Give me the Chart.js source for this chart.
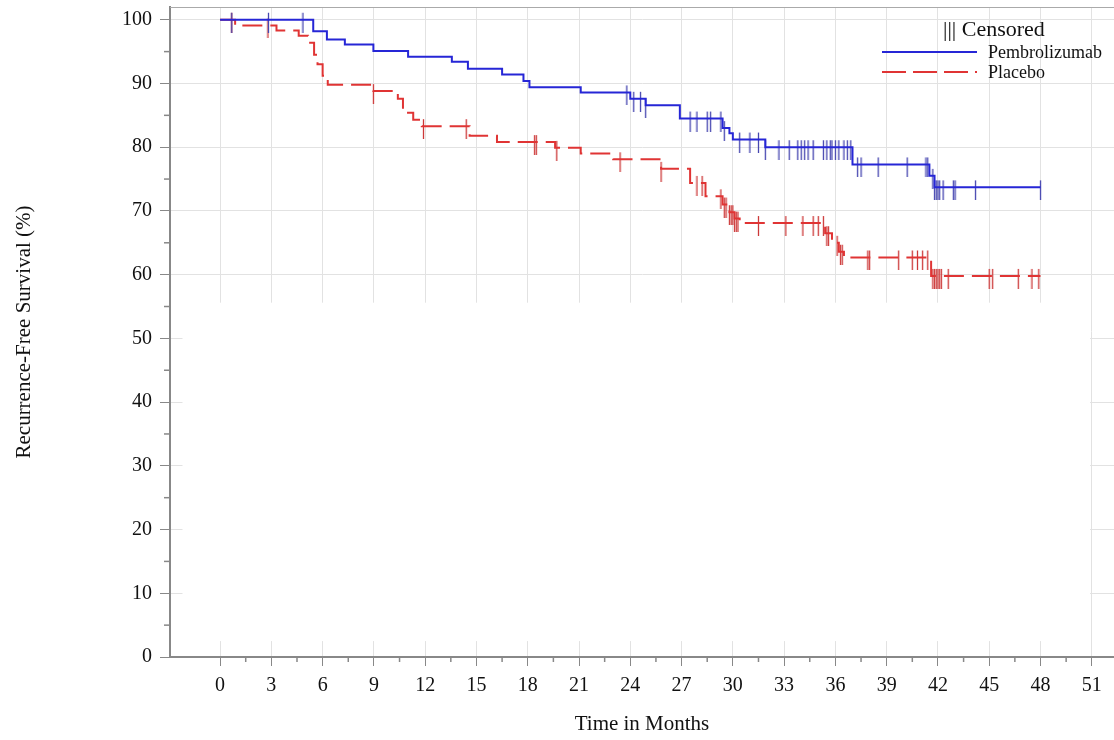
<!DOCTYPE html>
<html>
<head>
<meta charset="utf-8">
<script src="https://cdn.jsdelivr.net/npm/chart.js@4.4.0/dist/chart.umd.min.js"></script>
<style>
body { margin: 0; background: #fff; }
#wrap { position: relative; width: 1114px; height: 740px; }
.lg { position: absolute; font-family: 'Liberation Serif', serif; color: #111; white-space: nowrap; line-height: 1; }
.sw { position: absolute; height: 2px; }
</style>
</head>
<body>
<div id="wrap">
	<canvas id="kmChart" width="1114" height="740"></canvas>
	<div class="lg" style="left:943px; top:18px; font-size:22px;">||| Censored</div>
	<div class="sw" style="left:882px; top:51px; width:95px; background:#2626d6;"></div>
	<div class="lg" style="left:988px; top:43px; font-size:18px;">Pembrolizumab</div>
	<div class="sw" style="left:882px; top:71px; width:95px; background:repeating-linear-gradient(to right, #e03434 0 24px, transparent 24px 31px);"></div>
	<div class="lg" style="left:988px; top:63px; font-size:18px;">Placebo</div>
</div>
<script>
// Kaplan-Meier steps (months, RFS %)
var pembroTime = [0, 5.45, 6.25, 7.3, 8.97, 11.0, 13.56, 14.5, 16.5, 17.75, 18.1, 21.1, 24.0, 24.9, 26.9, 29.4, 29.8, 30.0, 31.9, 37.0, 41.5, 41.8, 48];
var pembroRFS  = [100, 98.2, 96.9, 96.1, 95.1, 94.2, 93.4, 92.3, 91.4, 90.4, 89.4, 88.6, 87.6, 86.6, 84.5, 83.0, 82.2, 81.2, 80.0, 77.3, 75.5, 73.7, 73.7];
var pembroCensor = [0.68, 2.83, 4.85, 23.8, 24.2, 24.6, 24.9, 27.5, 27.9, 28.5, 28.7, 29.3, 29.5, 30.4, 31.0, 31.5, 31.9,
	32.7, 33.3, 33.8, 34.0, 34.2, 34.4, 34.7, 35.3, 35.5, 35.7, 35.8, 36.0, 36.2, 36.5, 36.7, 36.9, 37.3, 37.5, 38.5, 40.2,
	41.3, 41.4, 41.7, 41.8, 41.9, 42.0, 42.1, 42.3, 42.9, 43.0, 44.2, 48.0];

var placeboTime = [0, 0.88, 3.3, 4.6, 5.15, 5.5, 5.7, 6.0, 6.3, 8.97, 10.4, 10.7, 11.3, 11.8, 14.6, 16.2, 19.6, 21.1, 23.0, 25.8, 27.5, 28.4, 29.4, 29.8, 30.1, 30.4, 35.4, 35.8, 36.2, 36.5, 41.6, 48];
var placeboRFS  = [100, 99.1, 98.3, 97.5, 96.4, 94.5, 93.0, 91.2, 89.8, 88.8, 87.6, 85.4, 84.3, 83.3, 81.8, 80.8, 79.9, 79.0, 78.1, 76.6, 74.4, 72.3, 71.0, 69.8, 68.8, 68.1, 66.5, 65.0, 63.6, 62.7, 59.8, 59.8];
var placeboCensor = [0.68, 2.8, 8.97, 11.9, 14.4, 18.4, 18.5, 19.7, 23.4, 25.8, 27.9, 28.2, 29.3, 29.5, 29.6, 29.8, 29.9,
	30.0, 30.1, 30.2, 30.3, 31.5, 33.1, 34.1, 34.7, 35.0, 35.3, 35.5, 35.6, 36.1, 36.3, 36.4, 37.9, 38.0, 39.7, 40.5, 40.8,
	41.1, 41.4, 41.7, 41.8, 41.9, 42.0, 42.1, 42.2, 42.6, 45.0, 45.2, 46.7, 47.5, 47.9];

var xTickLabels = [0, 3, 6, 9, 12, 15, 18, 21, 24, 27, 30, 33, 36, 39, 42, 45, 48, 51];
var yTickLabels = [0, 10, 20, 30, 40, 50, 60, 70, 80, 90, 100];

var serif = 'Liberation Serif';

function toPoints(times, vals) {
	return times.map(function(t, i) { return { x: t, y: vals[i] }; });
}

// survival value of the step curve at time t
function stepValue(times, vals, t) {
	var v = vals[0];
	for (var i = 0; i < times.length; i++) {
		if (times[i] <= t) v = vals[i];
	}
	return v;
}

function censorPoints(cens, times, vals) {
	return cens.map(function(t) { return { x: t, y: stepValue(times, vals, t) }; });
}

// little vertical bar, sits a bit low like in the original
function tickMark(color) {
	var c = document.createElement('canvas');
	c.width = 3; c.height = 26;
	var g = c.getContext('2d');
	g.strokeStyle = color;
	g.lineWidth = 1.3;
	g.beginPath(); g.moveTo(1.5, 6); g.lineTo(1.5, 26); g.stroke();
	return c;
}

function withMinors(list) {
	var t = [];
	list.forEach(function(v, i) {
		t.push({ value: v });
		if (i < list.length - 1) t.push({ value: (v + list[i + 1]) / 2 });
	});
	return t;
}

// white patch over the lower grid + top frame line + short minor ticks
var frameParts = {
	id: 'frameParts',
	beforeDatasetsDraw: function(chart) {
		var ctx = chart.ctx, xs = chart.scales.x, ys = chart.scales.y, a = chart.chartArea;
		ctx.save();
		ctx.fillStyle = '#fff';
		var l = xs.getPixelForValue(-2.2), r = xs.getPixelForValue(50.9);
		var t = ys.getPixelForValue(55.6), b = ys.getPixelForValue(2.5);
		ctx.fillRect(l, t, r - l, b - t);
		ctx.strokeStyle = '#aaa';
		ctx.lineWidth = 1;
		ctx.beginPath(); ctx.moveTo(a.left, a.top + 0.5); ctx.lineTo(a.right, a.top + 0.5); ctx.stroke();
		ctx.strokeStyle = '#888';
		ctx.lineWidth = 1.5;
		xs.ticks.forEach(function(tk) {
			if (xTickLabels.indexOf(tk.value) < 0) {
				var px = xs.getPixelForValue(tk.value);
				ctx.beginPath(); ctx.moveTo(px, a.bottom); ctx.lineTo(px, a.bottom + 5); ctx.stroke();
			}
		});
		ys.ticks.forEach(function(tk) {
			if (yTickLabels.indexOf(tk.value) < 0) {
				var py = ys.getPixelForValue(tk.value);
				ctx.beginPath(); ctx.moveTo(a.left - 6, py); ctx.lineTo(a.left, py); ctx.stroke();
			}
		});
		ctx.restore();
	}
};

var context = document.getElementById('kmChart').getContext('2d');

var myChart = new Chart(context, {
	type: 'line',
	data: {
		datasets: [
			{
				label: 'Pembrolizumab',
				data: toPoints(pembroTime, pembroRFS),
				stepped: true,
				borderColor: '#2626d6',
				borderWidth: 2,
				pointRadius: 0,
				fill: false
			},
			{
				label: 'Placebo',
				data: toPoints(placeboTime, placeboRFS),
				stepped: true,
				borderColor: '#e03434',
				borderWidth: 2,
				borderDash: [20, 8],
				pointRadius: 0,
				fill: false
			},
			{
				label: 'Pembrolizumab censored',
				data: censorPoints(pembroCensor, pembroTime, pembroRFS),
				showLine: false,
				pointStyle: tickMark('#4646b0'),
				pointRadius: 10
			},
			{
				label: 'Placebo censored',
				data: censorPoints(placeboCensor, placeboTime, placeboRFS),
				showLine: false,
				pointStyle: tickMark('#cc3838'),
				pointRadius: 10
			}
		]
	},
	options: {
		responsive: false,
		animation: false,
		layout: { autoPadding: false, padding: { top: 7, right: 0, left: 0, bottom: 0 } },
		plugins: {
			legend: { display: false },
			tooltip: { enabled: false }
		},
		scales: {
			x: {
				type: 'linear',
				min: -2.93,
				max: 52.3,
				afterFit: function(scale) {
					scale.height = 83;
					scale.paddingLeft = 0; scale.paddingRight = 0;
				},
				afterBuildTicks: function(scale) { scale.ticks = withMinors(xTickLabels); },
				border: { color: '#888', width: 2 },
				grid: {
					color: function(c) { return c.tick && xTickLabels.indexOf(c.tick.value) >= 0 ? '#e2e2e2' : 'transparent'; },
					tickColor: function(c) { return c.tick && xTickLabels.indexOf(c.tick.value) >= 0 ? '#888' : 'transparent'; },
					tickLength: 9
				},
				ticks: {
					autoSkip: false,
					maxRotation: 0,
					padding: 8,
					color: '#111',
					font: { family: serif, size: 20 },
					callback: function(v) { return xTickLabels.indexOf(v) >= 0 ? v : ''; }
				},
				title: {
					display: true,
					text: 'Time in Months',
					color: '#111',
					font: { family: serif, size: 21 },
					padding: { top: 0, bottom: 3 }
				}
			},
			y: {
				min: 0,
				max: 102,
				afterFit: function(scale) {
					scale.width = 170;
					scale.paddingTop = 0; scale.paddingBottom = 0;
				},
				afterBuildTicks: function(scale) { scale.ticks = withMinors(yTickLabels); },
				border: { color: '#888', width: 2 },
				grid: {
					color: function(c) { return c.tick && yTickLabels.indexOf(c.tick.value) >= 0 ? '#e2e2e2' : 'transparent'; },
					tickColor: function(c) { return c.tick && yTickLabels.indexOf(c.tick.value) >= 0 ? '#888' : 'transparent'; },
					tickLength: 10
				},
				ticks: {
					autoSkip: false,
					padding: 8,
					color: '#111',
					font: { family: serif, size: 20 },
					callback: function(v) { return yTickLabels.indexOf(v) >= 0 ? v : ''; }
				},
				title: {
					display: true,
					text: 'Recurrence-Free Survival (%)',
					color: '#111',
					font: { family: serif, size: 21 },
					padding: { top: 12, bottom: 0 }
				}
			}
		}
	},
	plugins: [frameParts]
});
</script>
</body>
</html>
